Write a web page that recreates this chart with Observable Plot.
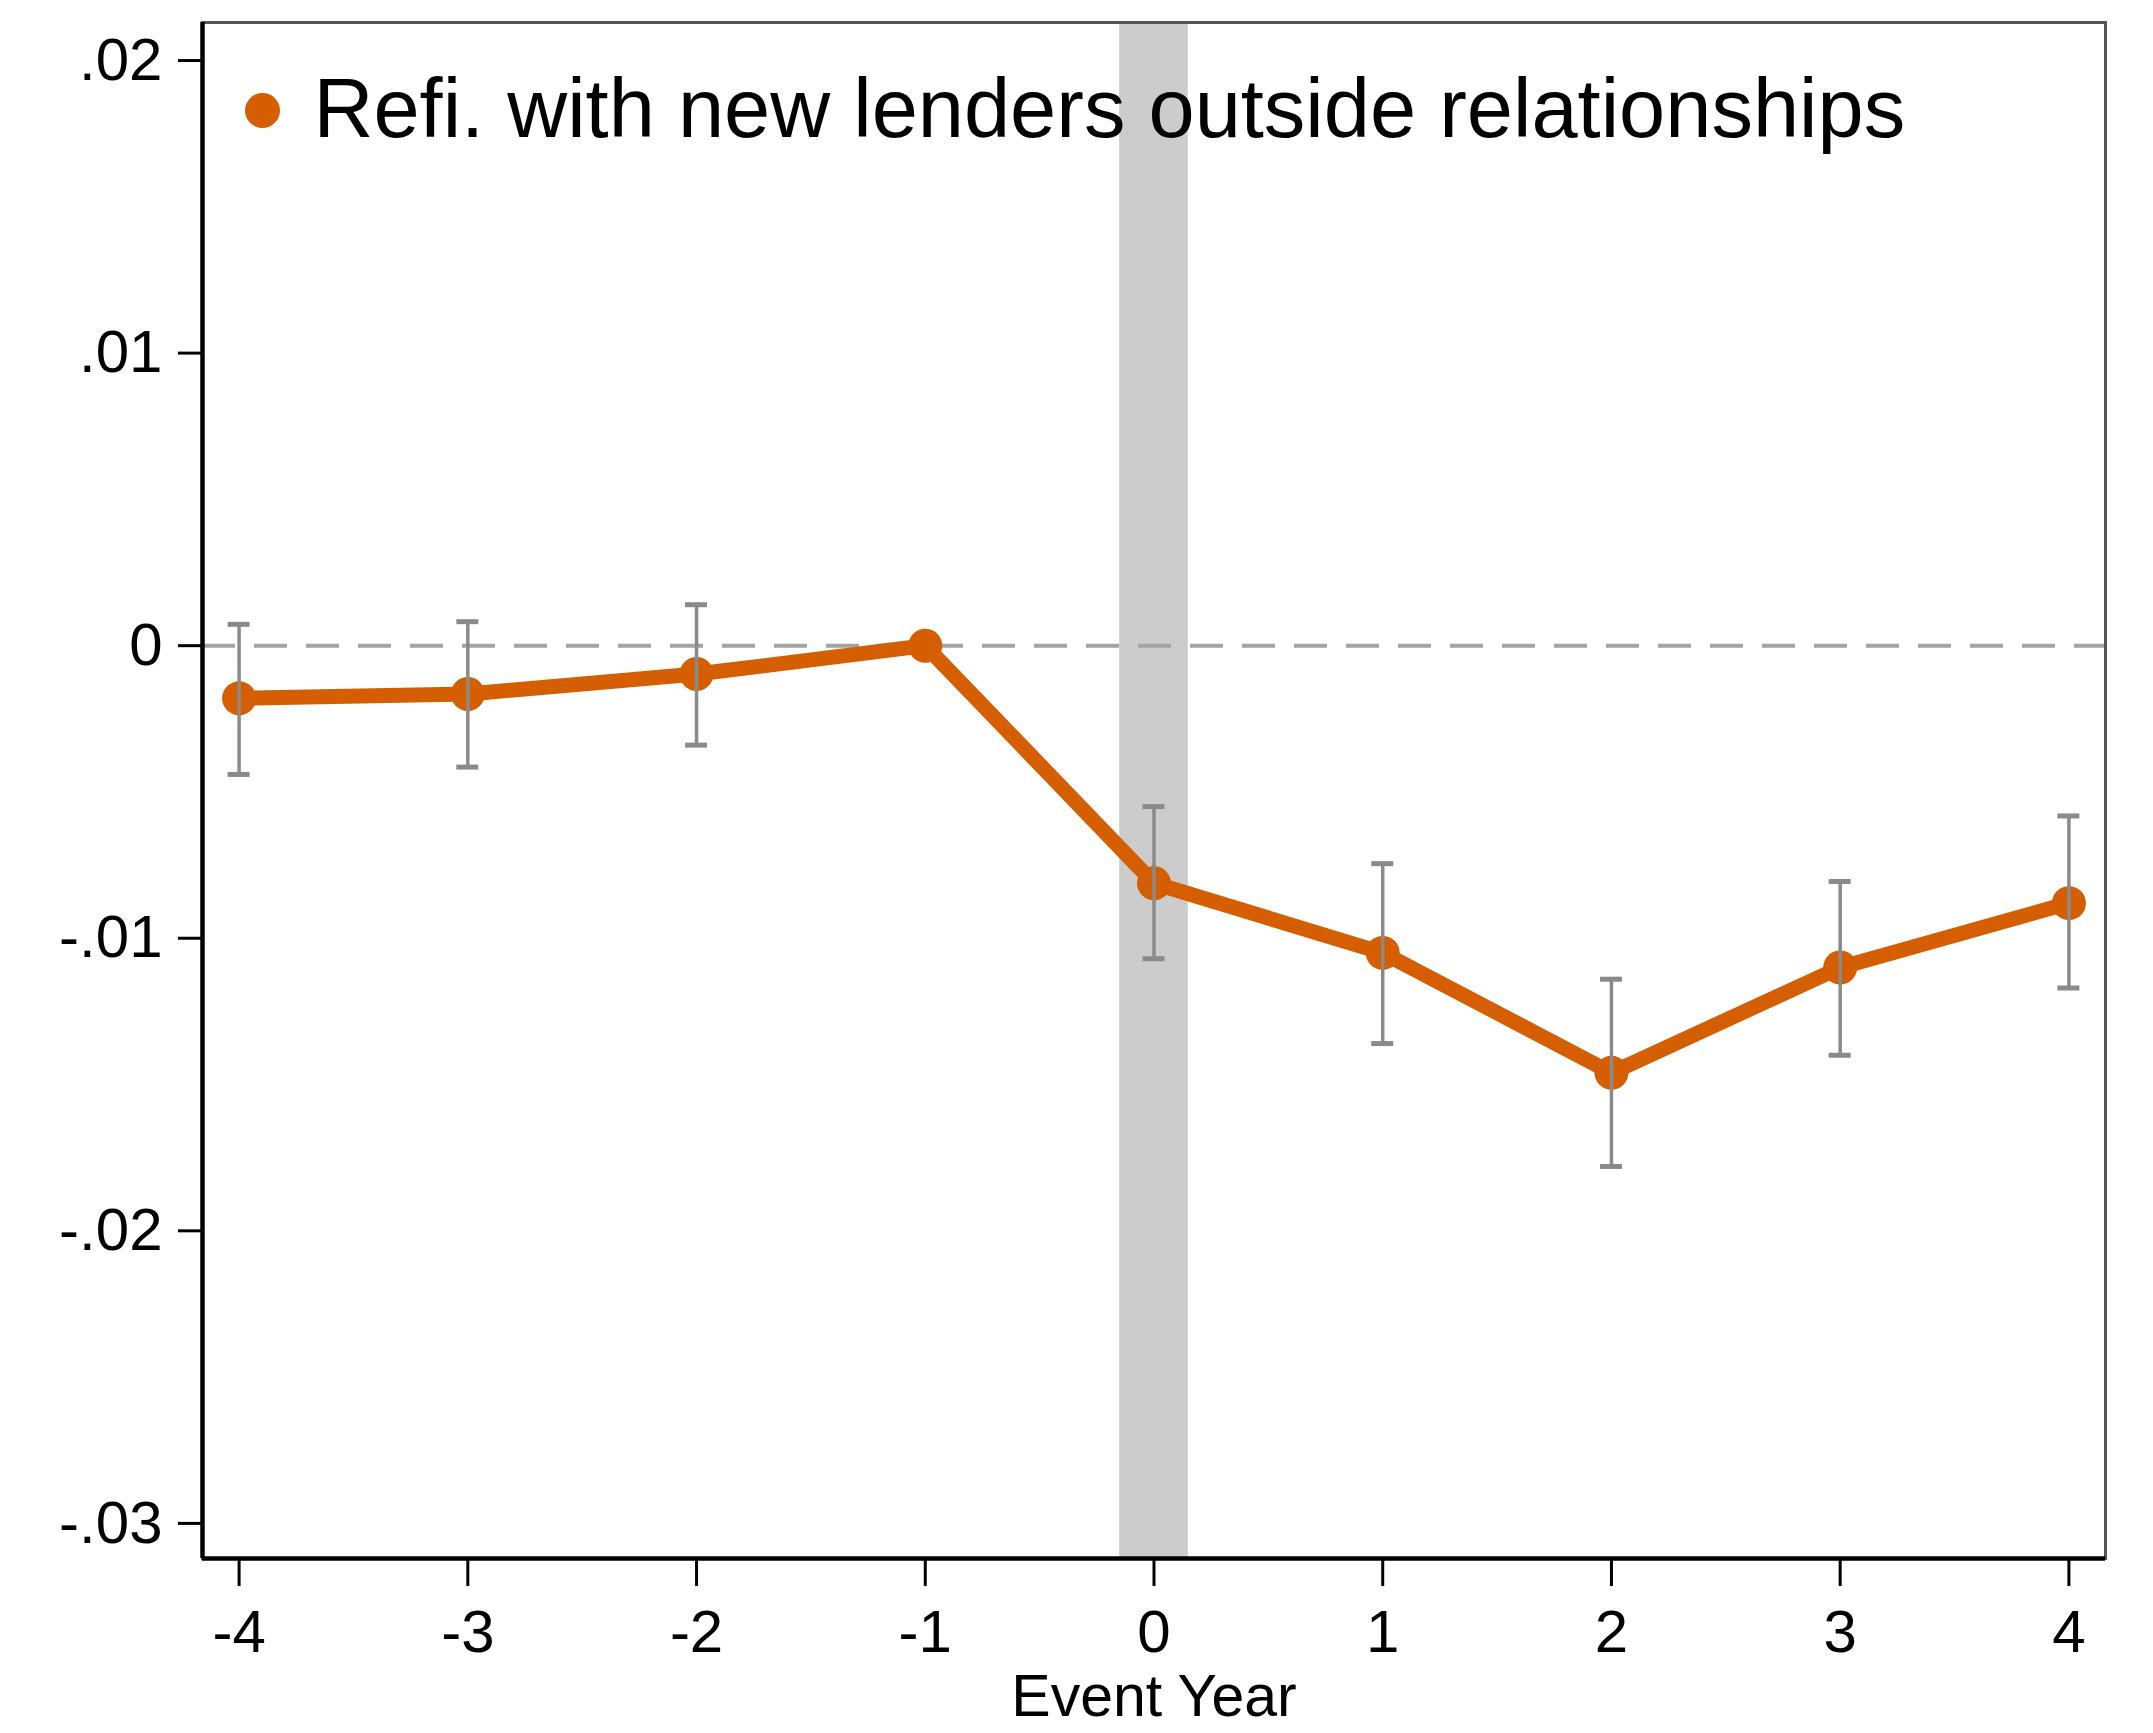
<!DOCTYPE html>
<html><head><meta charset="utf-8">
<script src="https://cdn.jsdelivr.net/npm/d3@7"></script>
<script src="https://cdn.jsdelivr.net/npm/@observablehq/plot@0.6"></script>
<style>html,body{margin:0;padding:0;background:#fff}</style>
</head><body><div id="chart"></div>
<script>
// ---- data ----
const years = [-4, -3, -2, -1, 0, 1, 2, 3, 4];
const estimates = [-0.0018, -0.00165, -0.00097, 0, -0.00812, -0.0105, -0.0146, -0.011, -0.0088];
const ciLow  = [-0.0044, -0.00415, -0.0034, null, -0.0107, -0.0136, -0.0178, -0.0140, -0.0117];
const ciHigh = [0.00073, 0.00082, 0.0014, null, -0.0055, -0.00745, -0.0114, -0.00806, -0.00582];
const yTicks = [0.02, 0.01, 0, -0.01, -0.02, -0.03];
const yTickLabels = [".02", ".01", "0", "-.01", "-.02", "-.03"];
const xTicks = [-4, -3, -2, -1, 0, 1, 2, 3, 4];
const xTickLabels = ["-4", "-3", "-2", "-1", "0", "1", "2", "3", "4"];
const legendLabel = "Refi. with new lenders outside relationships";
const xAxisLabel = "Event Year";
const eventBand = [-0.15, 0.15];
const xDomain = [-4.16, 4.16];
const yDomain = [-0.0312, 0.0213];

// ---- table ----
const rows = years.map((x, i) => ({x, y: estimates[i], lo: ciLow[i], hi: ciHigh[i]}));
const ciRows = rows.filter(d => d.lo != null);
const capHalf = 0.048;
const orange = "#d55e00";
const barGray = "#8a8a8a";

const chart = Plot.plot({
  width: 2153,
  height: 1733,
  marginLeft: 202,
  marginRight: 48,
  marginTop: 22,
  marginBottom: 175,
  style: {fontFamily: "'Liberation Sans', Arial, sans-serif", fontSize: "58px", background: "#fff", color: "#000"},
  x: {domain: xDomain},
  y: {domain: yDomain},
  marks: [
    Plot.rect([eventBand], {x1: d => d[0], x2: d => d[1], fill: "#cccccc"}),
    Plot.ruleY([0], {stroke: "#a3a3a3", strokeWidth: 4, strokeDasharray: "33,19"}),
    Plot.line(rows, {x: "x", y: "y", stroke: orange, strokeWidth: 15, strokeLinejoin: "round"}),
    Plot.dot(rows, {x: "x", y: "y", r: 17, fill: orange}),
    Plot.ruleX(ciRows, {x: "x", y1: "lo", y2: "hi", stroke: barGray, strokeWidth: 3.5}),
    Plot.ruleY(ciRows, {y: "lo", x1: d => d.x - capHalf, x2: d => d.x + capHalf, stroke: barGray, strokeWidth: 5}),
    Plot.ruleY(ciRows, {y: "hi", x1: d => d.x - capHalf, x2: d => d.x + capHalf, stroke: barGray, strokeWidth: 5}),
    Plot.frame({stroke: "#555", strokeWidth: 3}),
    Plot.ruleX([xDomain[0]], {stroke: "#000", strokeWidth: 4.5}),
    Plot.ruleY([yDomain[0]], {stroke: "#000", strokeWidth: 4.5}),
    Plot.axisY(yTicks, {tickSize: 24, tickPadding: 16, strokeWidth: 3, fontSize: 60, label: null,
      tickFormat: d => yTickLabels[yTicks.indexOf(d)]}),
    Plot.axisX(xTicks, {tickSize: 28, tickPadding: 23, strokeWidth: 3, fontSize: 60, label: null,
      tickFormat: d => xTickLabels[xTicks.indexOf(d)]}),
    Plot.text([xAxisLabel], {frameAnchor: "bottom", dy: 139, lineAnchor: "middle", fontSize: 59, fill: "#000"}),
    Plot.dot([legendLabel], {frameAnchor: "top-left", dx: 60, dy: 88, r: 17.5, fill: orange}),
    Plot.text([legendLabel], {frameAnchor: "top-left", dx: 111, dy: 88, textAnchor: "start", lineAnchor: "middle", fontSize: 83, fill: "#000"})
  ]
});
document.getElementById("chart").append(chart);
</script>
</body></html>
